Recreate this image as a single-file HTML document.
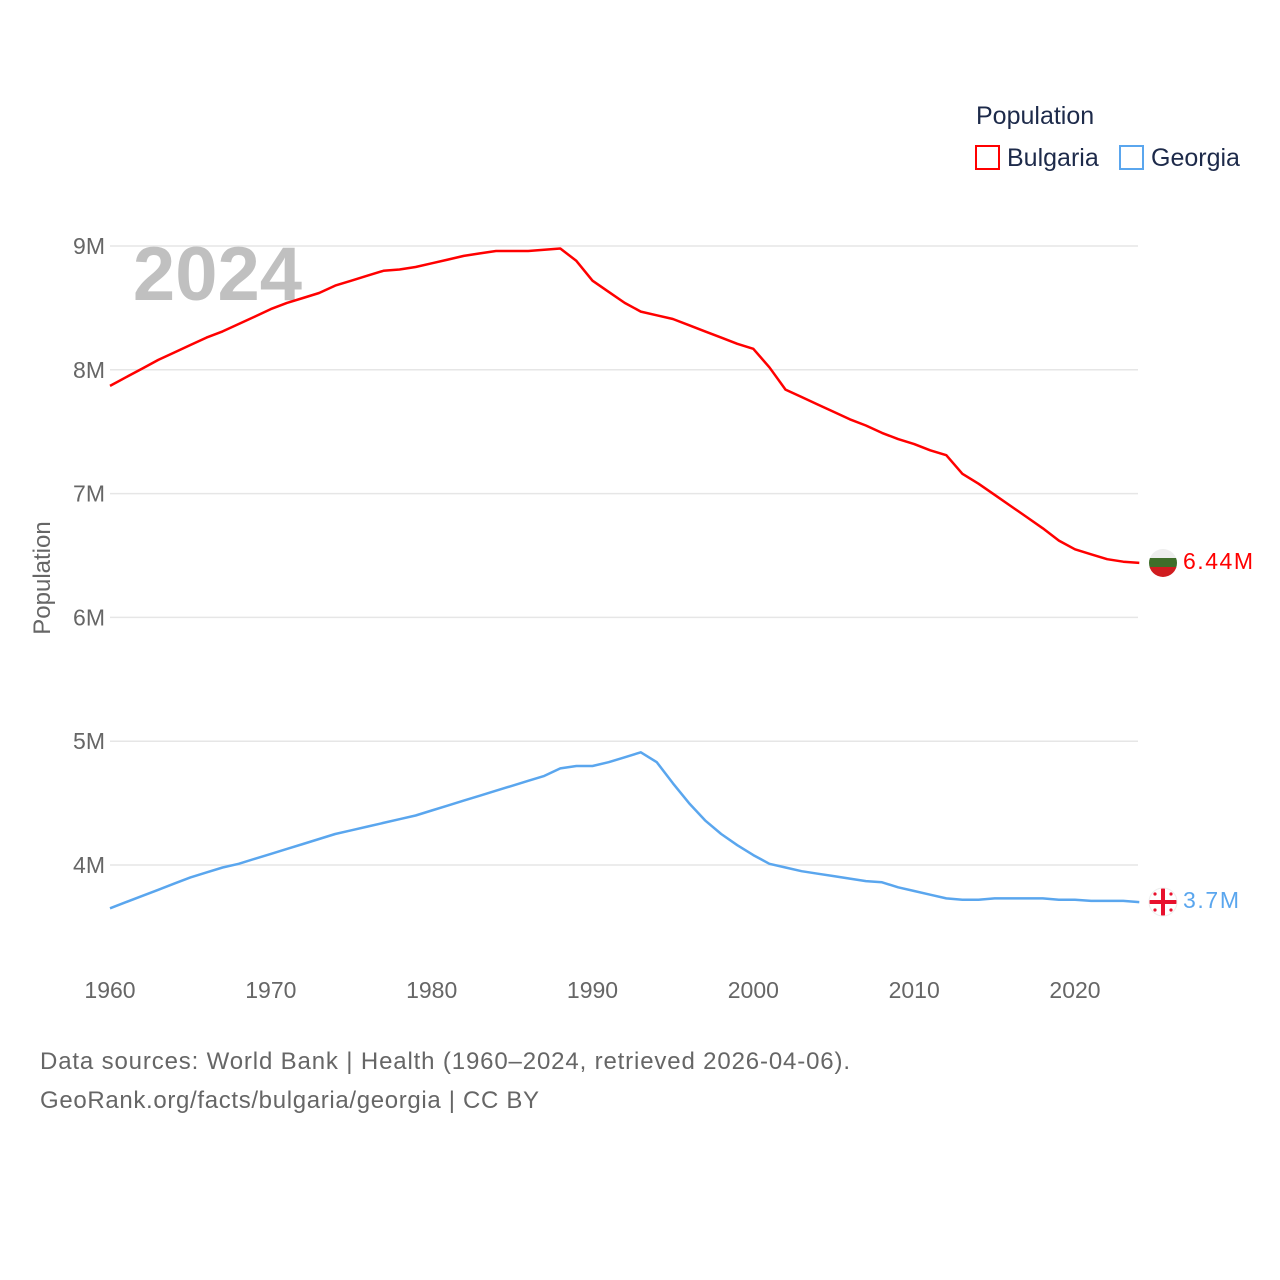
<!DOCTYPE html>
<html><head><meta charset="utf-8"><style>
body{margin:0;background:#fff;}
svg{display:block;font-family:"Liberation Sans",sans-serif;}
</style></head><body>
<svg id="chart" width="1280" height="1280" viewBox="0 0 1280 1280">
<g id="grid"></g>
<g id="yticks"></g>
<g id="xticks"></g>
<text x="302" y="300" font-size="76" font-weight="bold" fill="#c0c0c0" text-anchor="end">2024</text>
<text transform="translate(50,578) rotate(-90)" font-size="24" fill="#666" text-anchor="middle">Population</text>
<g id="series"></g>
<g>
<text x="976" y="124" font-size="25" fill="#1d2a4a">Population</text>
<g><rect x="976" y="146" width="23" height="23" fill="none" stroke="#f00" stroke-width="2"/><text x="1007" y="166" font-size="25" fill="#1d2a4a">Bulgaria</text></g>
<g><rect x="1120" y="146" width="23" height="23" fill="none" stroke="#5aa6ee" stroke-width="2"/><text x="1151" y="166" font-size="25" fill="#1d2a4a">Georgia</text></g>
</g>
<g>
<clipPath id="cb"><circle cx="1163" cy="563" r="14"/></clipPath>
<g clip-path="url(#cb)"><rect x="1149" y="549" width="28" height="10" fill="#eee"/><rect x="1149" y="558" width="28" height="10" fill="#3f6e2a"/><rect x="1149" y="567" width="28" height="10" fill="#d01c1f"/></g>
</g>
<text x="1183" y="569" font-size="23" fill="#f00" textLength="70">6.44M</text>
<g>
<clipPath id="cg"><circle cx="1163" cy="902" r="14"/></clipPath>
<g clip-path="url(#cg)"><rect x="1149" y="888" width="28" height="28" fill="#fff"/><rect x="1161" y="888" width="4" height="28" fill="#e8112d"/><rect x="1149" y="900" width="28" height="4" fill="#e8112d"/>
<circle cx="1155" cy="894" r="1.6" fill="#e8112d"/><circle cx="1171" cy="894" r="1.6" fill="#e8112d"/><circle cx="1155" cy="910" r="1.6" fill="#e8112d"/><circle cx="1171" cy="910" r="1.6" fill="#e8112d"/></g>
<circle cx="1163" cy="902" r="14" fill="none" stroke="#eee" stroke-width="1"/>
</g>
<text x="1183" y="908" font-size="23" fill="#5aa6ee" textLength="56">3.7M</text>
<text x="40" y="1069" font-size="24" fill="#666" textLength="810">Data sources: World Bank | Health (1960–2024, retrieved 2026-04-06).</text>
<text x="40" y="1108" font-size="24" fill="#666" textLength="499">GeoRank.org/facts/bulgaria/georgia | CC BY</text>
</svg>
<script>
const years=[];for(let y=1960;y<=2024;y++)years.push(y);
const bulgaria=[7.87,7.94,8.01,8.08,8.14,8.20,8.26,8.31,8.37,8.43,8.49,8.54,8.58,8.62,8.68,8.72,8.76,8.80,8.81,8.83,8.86,8.89,8.92,8.94,8.96,8.96,8.96,8.97,8.98,8.88,8.72,8.63,8.54,8.47,8.44,8.41,8.36,8.31,8.26,8.21,8.17,8.02,7.84,7.78,7.72,7.66,7.60,7.55,7.49,7.44,7.40,7.35,7.31,7.16,7.08,6.99,6.90,6.81,6.72,6.62,6.55,6.51,6.47,6.45,6.44];
const georgia=[3.65,3.70,3.75,3.80,3.85,3.90,3.94,3.98,4.01,4.05,4.09,4.13,4.17,4.21,4.25,4.28,4.31,4.34,4.37,4.40,4.44,4.48,4.52,4.56,4.60,4.64,4.68,4.72,4.78,4.80,4.80,4.83,4.87,4.91,4.83,4.66,4.50,4.36,4.25,4.16,4.08,4.01,3.98,3.95,3.93,3.91,3.89,3.87,3.86,3.82,3.79,3.76,3.73,3.72,3.72,3.73,3.73,3.73,3.73,3.72,3.72,3.71,3.71,3.71,3.70];
const yTicks=[4,5,6,7,8,9];
const xTicks=[1960,1970,1980,1990,2000,2010,2020];
const NS="http://www.w3.org/2000/svg";
const xs=y=>110+(y-1960)*(965/60);
const ys=v=>246+(9-v)*123.8;
const grid=document.getElementById('grid'),yt=document.getElementById('yticks'),xt=document.getElementById('xticks'),ser=document.getElementById('series');
yTicks.forEach(v=>{
const l=document.createElementNS(NS,'line');


l.setAttribute('x1',110);l.setAttribute('x2',1138);l.setAttribute('y1',ys(v));l.setAttribute('y2',ys(v));l.setAttribute('stroke','#e6e6e6');l.setAttribute('stroke-width',1.5);grid.appendChild(l);
const t=document.createElementNS(NS,'text');


t.setAttribute('x',105);t.setAttribute('y',ys(v)+8);t.setAttribute('text-anchor','end');t.setAttribute('font-size',23);t.setAttribute('fill','#666');t.textContent=v+'M';yt.appendChild(t);
});
xTicks.forEach(y=>{
const t=document.createElementNS(NS,'text');


t.setAttribute('x',xs(y));t.setAttribute('y',998);t.setAttribute('text-anchor','middle');t.setAttribute('font-size',23);t.setAttribute('fill','#666');t.textContent=y;xt.appendChild(t);
});
function line(data,color,name){
const p=document.createElementNS(NS,'path');


p.setAttribute('d',data.map((v,i)=>(i?'L':'M')+xs(years[i]).toFixed(1)+','+ys(v).toFixed(1)).join(''));
p.setAttribute('fill','none');p.setAttribute('stroke',color);p.setAttribute('stroke-width',2.5);p.setAttribute('stroke-linejoin','round');
ser.appendChild(p);
}
line(bulgaria,'#ff0000','bulgaria-line');
line(georgia,'#5aa6ee','georgia-line');
</script>
</body></html>
